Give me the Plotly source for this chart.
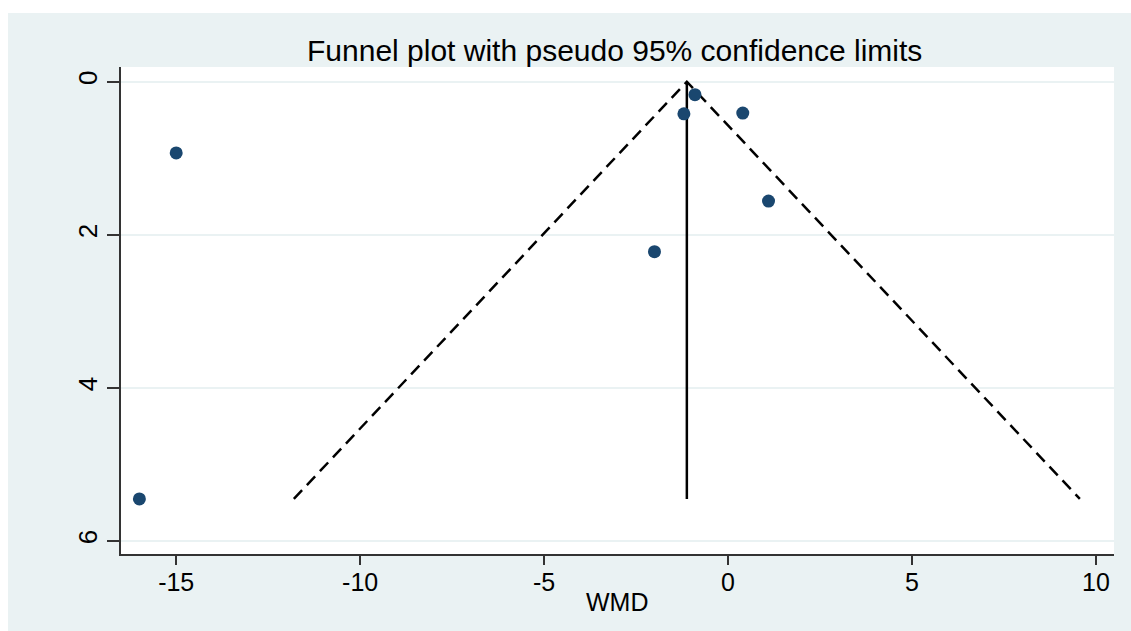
import plotly.graph_objects as go

# Study estimates (weighted mean difference) and standard errors
wmd = [-16.0, -15.0, -0.9, -1.2, 0.4, 1.1, -2.0]
se = [5.45, 0.93, 0.17, 0.42, 0.41, 1.56, 2.22]
pooled = -1.12
z95 = 1.96

x_ticks = [-15, -10, -5, 0, 5, 10]
x_tick_labels = ["-15", "-10", "-5", "0", "5", "10"]
y_ticks = [0, 2, 4, 6]
y_tick_labels = ["0", "2", "4", "6"]

BG = "#EAF2F3"
NAVY = "#1A476F"
FONT = "Liberation Sans, Arial, Helvetica, sans-serif"

se_max = max(se)
ci_x = [pooled - z95 * se_max, pooled, pooled + z95 * se_max]
ci_y = [se_max, 0, se_max]

fig = go.Figure()

fig.add_trace(go.Scatter(
    x=ci_x, y=ci_y, mode="lines",
    line=dict(color="black", width=2.5, dash="12px,7px"),
    hoverinfo="skip", showlegend=False))
fig.add_trace(go.Scatter(
    x=[pooled, pooled], y=[0, se_max], mode="lines",
    line=dict(color="black", width=2.5),
    hoverinfo="skip", showlegend=False))
fig.add_trace(go.Scatter(
    x=wmd, y=se, mode="markers",
    marker=dict(color=NAVY, size=13, line=dict(width=0)),
    showlegend=False))

L, R, T, B = 121, 17, 67, 77
W, H = 1131, 631
pw, ph = W - L - R, H - T - B

def px_x(p):
    return (p - L) / pw

def px_y(p):
    return (H - B - p) / ph

fig.update_layout(
    width=W, height=H,
    margin=dict(l=L, r=R, t=T, b=B),
    paper_bgcolor="white",
    plot_bgcolor="white",
    font=dict(family=FONT, color="black"),
    shapes=[
        dict(type="rect", xref="paper", yref="paper", layer="below",
             x0=px_x(8), x1=px_x(1140), y0=px_y(640), y1=px_y(13),
             fillcolor=BG, line=dict(width=0)),
        dict(type="rect", xref="paper", yref="paper", layer="below",
             x0=0, x1=1, y0=0, y1=1,
             fillcolor="white", line=dict(width=0)),
    ],
    annotations=[
        dict(text="Funnel plot with pseudo 95% confidence limits",
             xref="paper", yref="paper", x=px_x(614), y=px_y(51),
             xanchor="center", yanchor="middle", showarrow=False,
             font=dict(size=30, family=FONT, color="black")),
        dict(text="WMD",
             xref="paper", yref="paper", x=px_x(617), y=px_y(602),
             xanchor="center", yanchor="middle", showarrow=False,
             font=dict(size=25, family=FONT, color="black")),
    ],
)

fig.update_xaxes(
    range=[-16.5, 10.49],
    tickvals=x_ticks, ticktext=x_tick_labels,
    ticks="outside", ticklen=9, tickwidth=1.5, tickcolor="#333333",
    ticklabelstandoff=-4,
    tickfont=dict(size=25, family=FONT, color="black"),
    showgrid=False, zeroline=False,
    showline=True, linecolor="#333333", linewidth=2,
)
fig.update_yaxes(
    range=[6.17, -0.192],
    tickvals=y_ticks, ticktext=y_tick_labels,
    tickangle=-90,
    ticks="outside", ticklen=12, tickwidth=1.5, tickcolor="#333333",
    tickfont=dict(size=26, family=FONT, color="black"),
    showgrid=True, gridcolor=BG, gridwidth=2,
    zeroline=False,
    showline=True, linecolor="#333333", linewidth=2,
)

fig.write_html("out.html")
